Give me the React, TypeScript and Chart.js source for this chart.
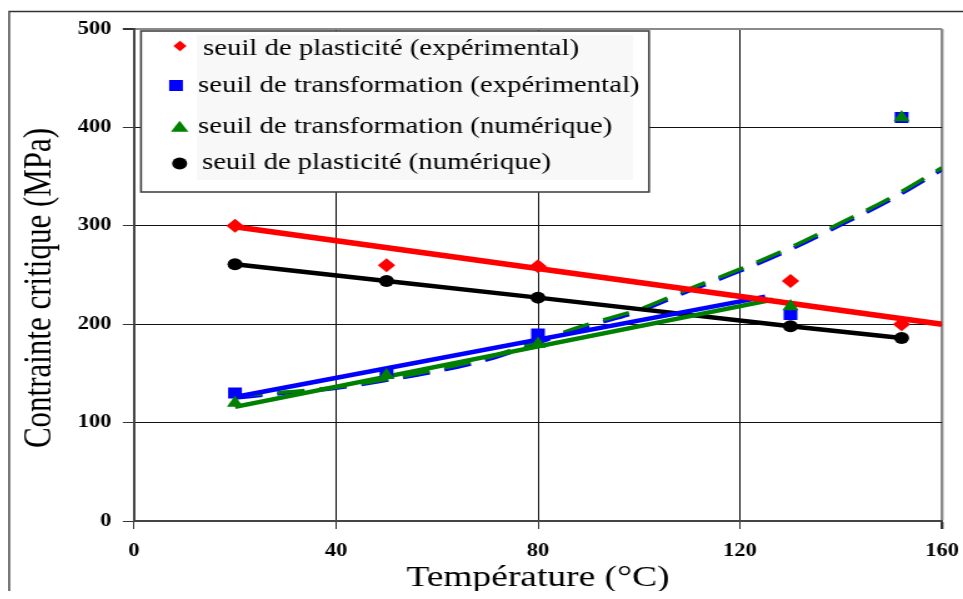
import React, { useEffect, useRef } from 'react';
import { Chart, registerables } from 'chart.js';

Chart.register(...registerables);

// ---------- data ----------
const temps = [20, 50, 80, 130, 152];
const plastExp = [300, 260, 259, 244, 200];
const transExp = [130, 150, 190, 210, 410];
const transNum = [120, 148, 180, 218, 410];
const plastNum = [261, 244, 227, 198, 186];

const redTrendX = [20, 160];
const redTrendY = [299, 200];
const blueTrendX = [20, 125];
const blueTrendY = [126, 228];
const greenTrendX = [20, 126.5];
const greenTrendY = [116, 225];

const curveX = [20, 30, 40, 50, 60, 70, 80, 90, 100, 110, 120, 130, 140, 150, 160];
const greenCurveY = [127, 131, 136, 144, 154, 166, 183, 200, 215, 236, 256, 278, 303, 329, 359];
const blueCurveY = [125, 130, 135, 143, 152, 164, 181, 198, 213, 234, 254, 276, 301, 327, 357];

const xTitle = 'Température (°C)';
const yTitle = 'Contrainte critique (MPa)';
const legendLabels = [
  'seuil de plasticité (expérimental)',
  'seuil de transformation (expérimental)',
  'seuil de transformation (numérique)',
  'seuil de plasticité (numérique)',
];

// ---------- layout ----------
const SERIF = '"Liberation Serif", "Times New Roman", serif';
const STRETCH = 1.25;
const CSS_W = 955;
const CSS_H = 583;
const W = Math.round(CSS_W / STRETCH);
const H = CSS_H;

const RED = '#ff0000';
const BLUE = '#0000ff';
const GREEN = '#008000';
const BLACK = '#000000';

const pts = (xs: number[], ys: number[]) => xs.map((x, i) => ({ x, y: ys[i] }));

function drawMarker(ctx: CanvasRenderingContext2D, kind: string, x: number, y: number, color: string) {
  ctx.fillStyle = color;
  ctx.beginPath();
  if (kind === 'diamond') {
    const r = 5.3;
    ctx.moveTo(x, y - r);
    ctx.lineTo(x + r, y);
    ctx.lineTo(x, y + r);
    ctx.lineTo(x - r, y);
  } else if (kind === 'square') {
    ctx.rect(x - 5.5, y - 5.5, 11, 11);
  } else if (kind === 'triangle') {
    ctx.moveTo(x, y - 6);
    ctx.lineTo(x + 7, y + 5);
    ctx.lineTo(x - 7, y + 5);
  } else {
    ctx.arc(x, y, 6, 0, Math.PI * 2);
  }
  ctx.closePath();
  ctx.fill();
}

const framePlugin = {
  id: 'frameAndLegend',
  beforeDraw(chart: any) {
    const ctx = chart.ctx as CanvasRenderingContext2D;
    ctx.save();
    ctx.fillStyle = '#ffffff';
    ctx.fillRect(0, 0, chart.width, chart.height);
    ctx.strokeStyle = '#333';
    ctx.lineWidth = 1.3;
    ctx.beginPath();
    ctx.moveTo(1, chart.height);
    ctx.lineTo(1, 3.5);
    ctx.lineTo(chart.width, 3.5);
    ctx.stroke();
    ctx.restore();
  },
  afterDraw(chart: any) {
    const ctx = chart.ctx as CanvasRenderingContext2D;
    ctx.save();

    // y-axis title (placed slightly below the plot centre, as in the source figure)
    const area = chart.chartArea;
    ctx.save();
    ctx.translate(25.5, (area.top + area.bottom) / 2 + 13);
    ctx.rotate(-Math.PI / 2);
    ctx.font = `31px ${SERIF}`;
    ctx.fillStyle = '#000';
    ctx.textAlign = 'center';
    ctx.textBaseline = 'middle';
    ctx.fillText(yTitle, 0, 0);
    ctx.restore();

    // legend
    const bx = 106.4, by = 23, bw = 406.4, bh = 161;
    ctx.fillStyle = '#ffffff';
    ctx.fillRect(bx, by, bw, bh);
    ctx.fillStyle = '#f8f8f8';
    ctx.fillRect(151, 27, 349, 145);
    ctx.strokeStyle = '#444';
    ctx.lineWidth = 1.6;
    ctx.strokeRect(bx, by, bw, bh);

    const rows = [
      { kind: 'diamond', color: RED, mx: 137.6, my: 38, tx: 156, ty: 47 },
      { kind: 'square', color: BLUE, mx: 134.4, my: 77.5, tx: 152, ty: 84.3 },
      { kind: 'triangle', color: GREEN, mx: 137.3, my: 118.7, tx: 152, ty: 125.3 },
      { kind: 'circle', color: BLACK, mx: 137.3, my: 155.5, tx: 155.2, ty: 161 },
    ];
    ctx.font = `23px ${SERIF}`;
    ctx.textBaseline = 'alphabetic';
    ctx.textAlign = 'left';
    rows.forEach((r, i) => {
      drawMarker(ctx, r.kind, r.mx, r.my, r.color);
      ctx.fillStyle = '#000';
      ctx.fillText(legendLabels[i], r.tx, r.ty);
    });
    ctx.restore();
  },
};

export default function App() {
  const ref = useRef<HTMLCanvasElement | null>(null);

  useEffect(() => {
    if (!ref.current) return;
    const chart = new Chart(ref.current, {
      type: 'scatter',
      data: {
        datasets: [
          {
            label: legendLabels[2],
            data: pts(temps, transNum),
            pointStyle: 'triangle',
            pointRadius: 7.5,
            pointBorderWidth: 0,
            pointBackgroundColor: GREEN,
            backgroundColor: GREEN,
            borderColor: GREEN,
            borderWidth: 0,
            showLine: false,
            order: 1,
          },
          {
            label: legendLabels[1],
            data: pts(temps, transExp),
            pointStyle: 'rect',
            pointRadius: 7.8,
            pointBorderWidth: 0,
            pointBackgroundColor: BLUE,
            backgroundColor: BLUE,
            borderColor: BLUE,
            borderWidth: 0,
            showLine: false,
            order: 2,
          },
          {
            label: legendLabels[0],
            data: pts(temps, plastExp),
            pointStyle: 'rectRot',
            pointRadius: 7,
            pointBorderWidth: 0,
            pointBackgroundColor: RED,
            backgroundColor: RED,
            borderColor: RED,
            borderWidth: 0,
            showLine: false,
            order: 1,
          },
          {
            label: legendLabels[3],
            data: pts(temps, plastNum),
            pointStyle: 'circle',
            pointRadius: 6,
            pointBorderWidth: 0,
            pointBackgroundColor: BLACK,
            pointBorderColor: BLACK,
            borderColor: BLACK,
            borderWidth: 4.5,
            showLine: true,
            order: 6,
          },
          {
            label: 'tendance plasticité exp.',
            data: pts(redTrendX, redTrendY),
            borderColor: RED,
            borderWidth: 5.5,
            pointRadius: 0,
            showLine: true,
            order: 3,
          },
          {
            label: 'tendance transformation exp.',
            data: pts(blueTrendX, blueTrendY),
            borderColor: BLUE,
            borderWidth: 4.5,
            pointRadius: 0,
            showLine: true,
            order: 4,
          },
          {
            label: 'tendance transformation num.',
            data: pts(greenTrendX, greenTrendY),
            borderColor: GREEN,
            borderWidth: 4.5,
            pointRadius: 0,
            showLine: true,
            order: 5,
          },
          {
            label: 'courbe transformation num.',
            data: pts(curveX, greenCurveY),
            borderColor: GREEN,
            borderWidth: 3.5,
            borderDash: [22, 12],
            pointRadius: 0,
            showLine: true,
            cubicInterpolationMode: 'monotone',
            order: 7,
          },
          {
            label: 'courbe transformation exp.',
            data: pts(curveX, blueCurveY),
            borderColor: BLUE,
            borderWidth: 3.5,
            borderDash: [22, 12],
            pointRadius: 0,
            showLine: true,
            cubicInterpolationMode: 'monotone',
            order: 8,
          },
        ],
      },
      options: {
        responsive: false,
        animation: false,
        devicePixelRatio: 1,
        layout: { padding: { left: 0, top: 21, right: 16.8, bottom: 0 } },
        plugins: {
          legend: { display: false },
          tooltip: { enabled: false },
        },
        scales: {
          x: {
            type: 'linear',
            position: 'bottom',
            min: 0,
            max: 160,
            afterFit: (s: any) => {
              s.height = 70;
              s.paddingLeft = 0;
              s.paddingRight = 0;
            },
            ticks: {
              stepSize: 40,
              autoSkip: false,
              maxRotation: 0,
              padding: 12,
              color: '#000',
              font: { family: SERIF, size: 18, weight: 'bold' },
            },
            grid: {
              color: (c: any) => (c.tick && c.tick.value === 160 ? '#8a8a8a' : '#111'),
              lineWidth: (c: any) => (c.tick && c.tick.value === 160 ? 2.4 : 1),
              tickLength: 8,
              tickColor: '#333',
            },
            border: { display: true, color: '#444', width: 2 },
            title: {
              display: true,
              text: xTitle,
              color: '#000',
              font: { family: SERIF, size: 30, lineHeight: 0.87 },
              padding: { top: 0, bottom: 0 },
            },
          },
          y: {
            type: 'linear',
            min: 0,
            max: 500,
            afterFit: (s: any) => {
              s.width = 100.8;
              s.paddingTop = 0;
              s.paddingBottom = 0;
            },
            ticks: {
              stepSize: 100,
              padding: 9,
              color: '#000',
              font: { family: SERIF, size: 18, weight: 'bold' },
            },
            grid: {
              color: (c: any) => (c.tick && c.tick.value === 500 ? '#8a8a8a' : '#111'),
              lineWidth: (c: any) => (c.tick && c.tick.value === 500 ? 2 : 1),
              tickLength: 9,
              tickColor: '#333',
            },
            border: { display: true, color: '#444', width: 2 },
            title: { display: false, text: yTitle },
          },
        },
      },
      plugins: [framePlugin],
    } as any);
    return () => chart.destroy();
  }, []);

  return (
    <canvas
      ref={ref}
      width={W}
      height={H}
      style={{
        display: 'block',
        position: 'absolute',
        left: '8px',
        top: '8px',
        width: `${CSS_W}px`,
        height: `${CSS_H}px`,
      }}
    />
  );
}
